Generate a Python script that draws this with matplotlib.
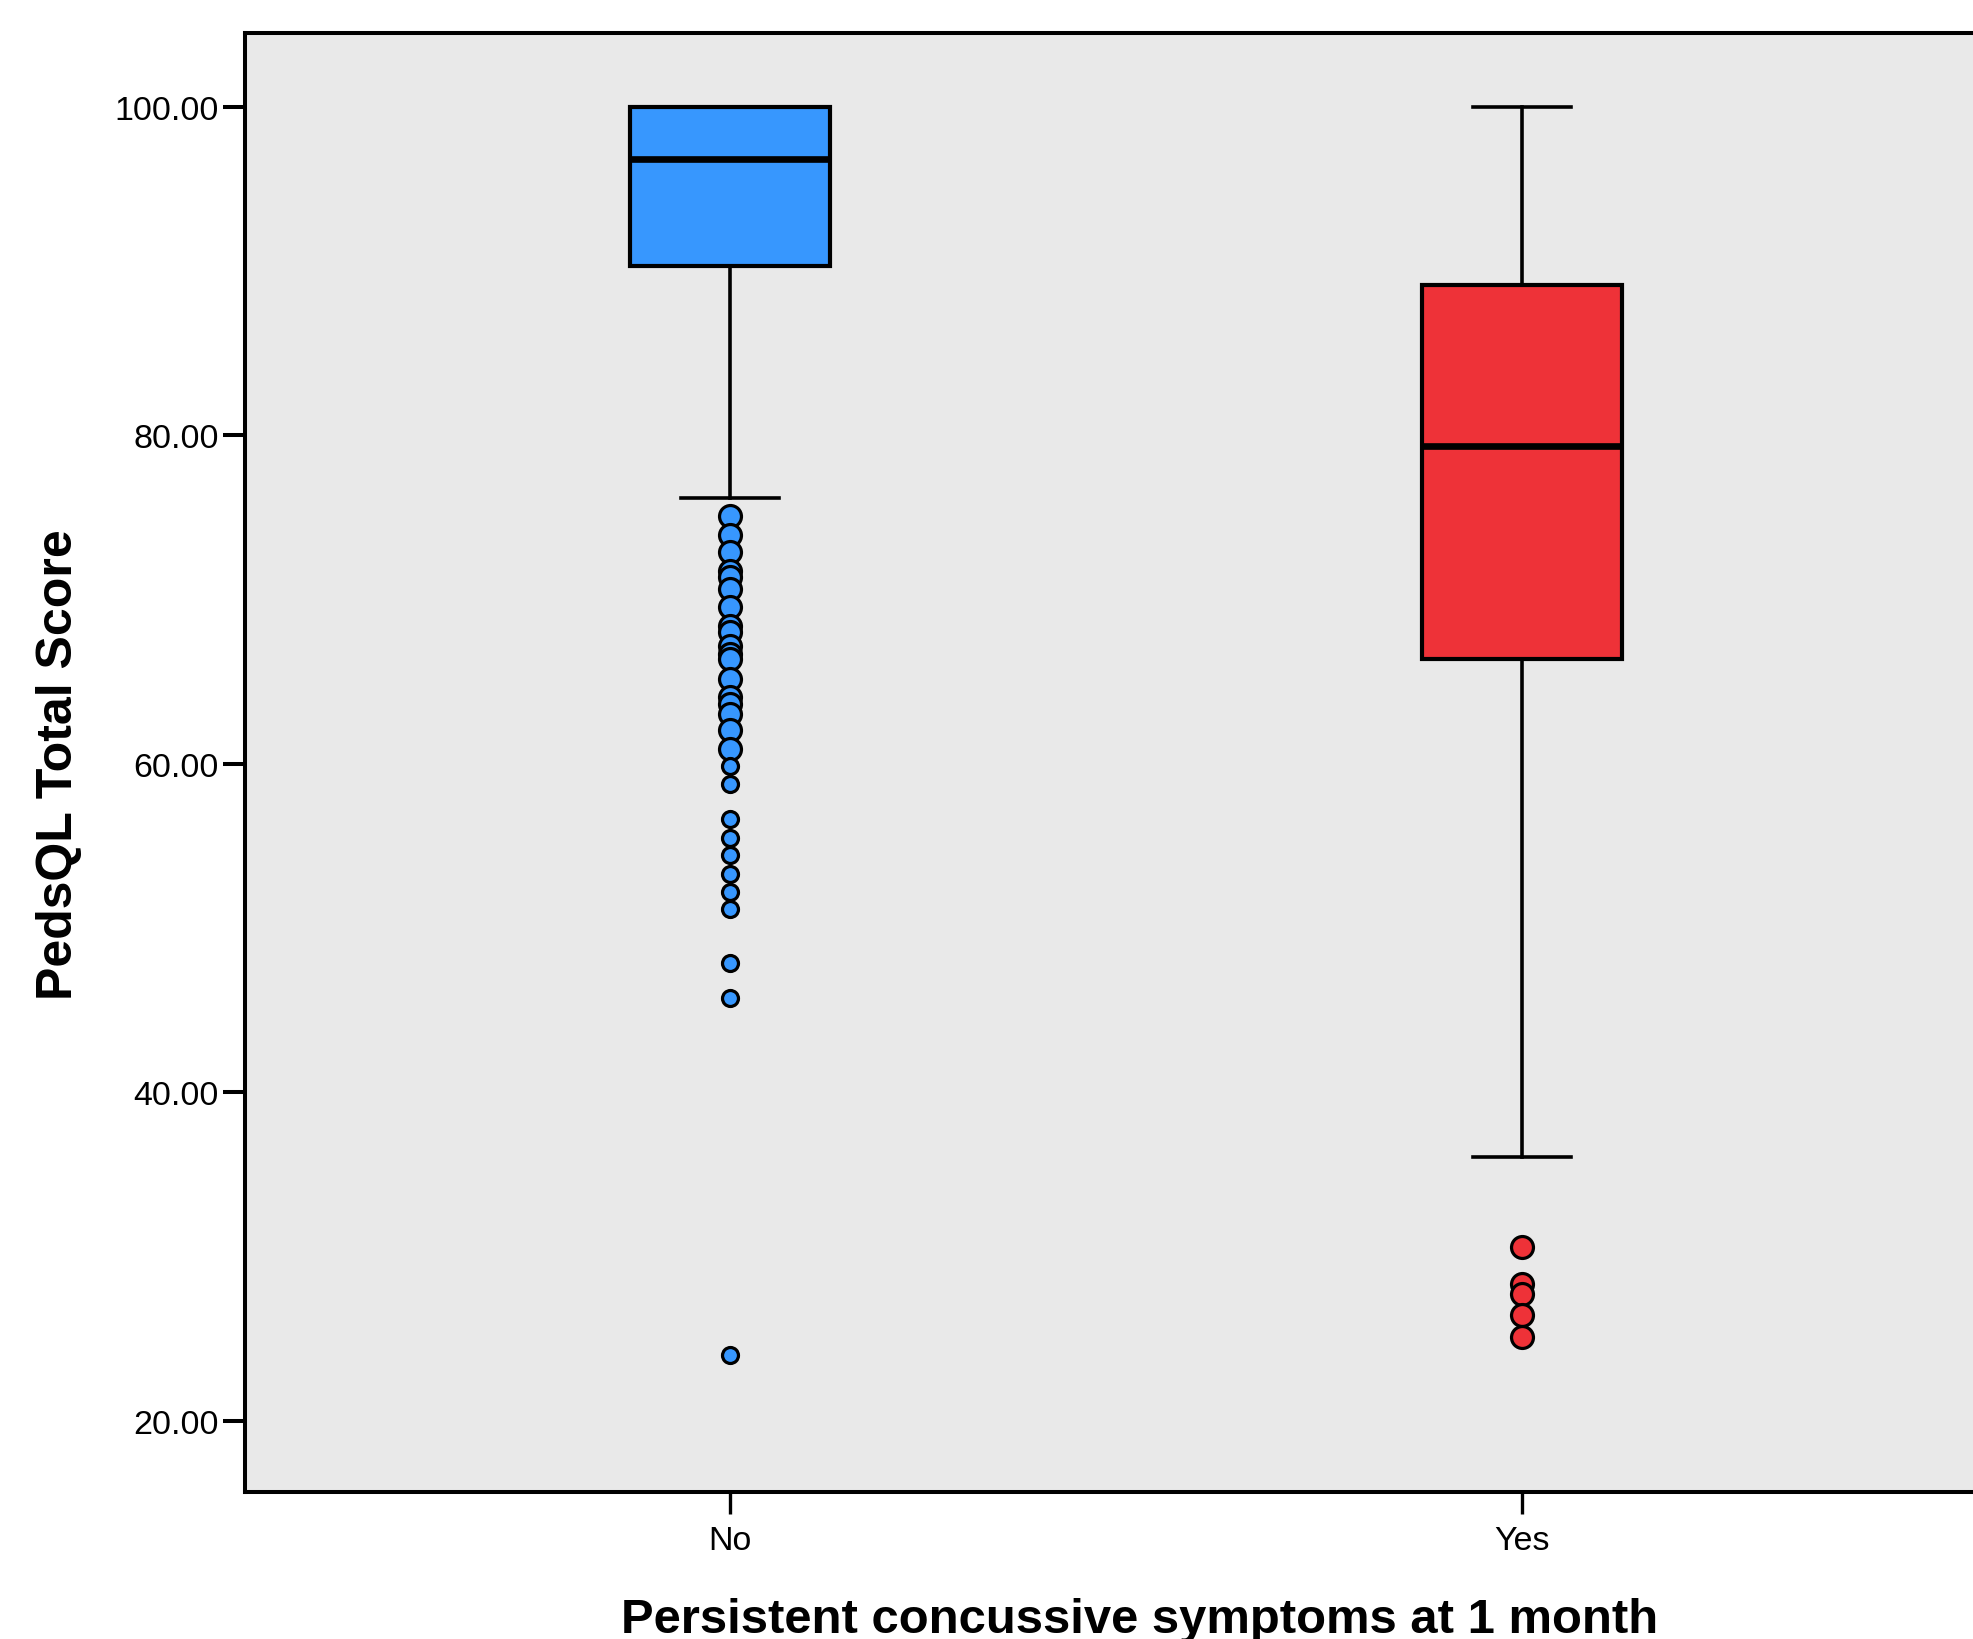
"""
plot.py - PedsQL total score by persistent concussive symptoms (box plot)
"""

import matplotlib
matplotlib.use("Agg")
import matplotlib.pyplot as plt

plt.rcParams["font.family"] = ["Liberation Sans", "DejaVu Sans"]

# DATA

groups = ["No", "Yes"]
q1 = [90.29, 66.40]
medians = [96.80, 79.38]
q3 = [100.0, 89.15]
whisker_low = [76.18, 36.03]
whisker_high = [100.0, 100.0]

no_outliers_big = [75.12, 73.95, 72.89, 71.77, 71.39, 70.66, 69.54, 68.42,
                   68.04, 67.20, 66.70, 66.40, 65.18, 64.06, 63.65, 63.04,
                   62.03, 60.91]
no_outliers_small = [59.86, 58.78, 56.61, 55.49, 54.42, 53.30, 52.22, 51.17,
                     47.90, 45.75, 24.01]
yes_outliers = [30.60, 28.33, 27.72, 26.46, 25.08]

y_ticks = [20, 40, 60, 80, 100]

colors = ["#3797fe", "#ee3238"]

# FIGURE

W, H = 1973, 1640
fig = plt.figure(figsize=(W / 100, H / 100), dpi=100)
ax = fig.add_axes([245 / W, (H - 1493) / H, (2007 - 245) / W, (1493 - 34) / H])
ax.set_facecolor("#e9e9e9")

stats = []
for i in range(len(groups)):
    stats.append({"med": medians[i], "q1": q1[i], "q3": q3[i],
                  "whislo": whisker_low[i], "whishi": whisker_high[i],
                  "fliers": [], "label": groups[i]})

pos = list(range(len(groups)))
bp = ax.bxp(stats, positions=pos, widths=0.2525, capwidths=0.124,
            patch_artist=True, showfliers=False,
            boxprops=dict(linewidth=3.0, edgecolor="black"),
            medianprops=dict(linewidth=4.8, color="black"),
            whiskerprops=dict(linewidth=2.6, color="black"),
            capprops=dict(linewidth=2.6, color="black"))
for patch, c in zip(bp["boxes"], colors):
    patch.set_facecolor(c)

ax.plot([pos[0]] * len(no_outliers_big), no_outliers_big, "o", ms=15.8,
        mfc=colors[0], mec="black", mew=2.3)
ax.plot([pos[0]] * len(no_outliers_small), no_outliers_small, "o", ms=11.5,
        mfc=colors[0], mec="black", mew=2.3)
ax.plot([pos[1]] * len(yes_outliers), yes_outliers, "o", ms=15.8,
        mfc=colors[1], mec="black", mew=2.3)

ax.set_xlim(-0.612, 1.612)
ax.set_ylim(15.66, 104.5)
ax.set_yticks(y_ticks)
ax.set_yticklabels([f"{v:.2f}" for v in y_ticks])
ax.set_xticks(pos)
ax.set_xticklabels(groups)

for s in ax.spines.values():
    s.set_linewidth(2.9)
ax.tick_params(axis="y", length=16, width=2.9, labelsize=24.5, pad=3)
ax.tick_params(axis="x", length=16, width=2.4, labelsize=24.5, pad=8)

fig.text(59 / W, 1 - 765 / H, "PedsQL Total Score", rotation=90,
         ha="center", va="center", fontsize=36, fontweight="bold")
fig.text(1140 / W, 1 - 1633 / H, "Persistent concussive symptoms at 1 month",
         ha="center", va="baseline", fontsize=35.3, fontweight="bold")

fig.savefig("out.png", dpi=100)
plt.close(fig)
